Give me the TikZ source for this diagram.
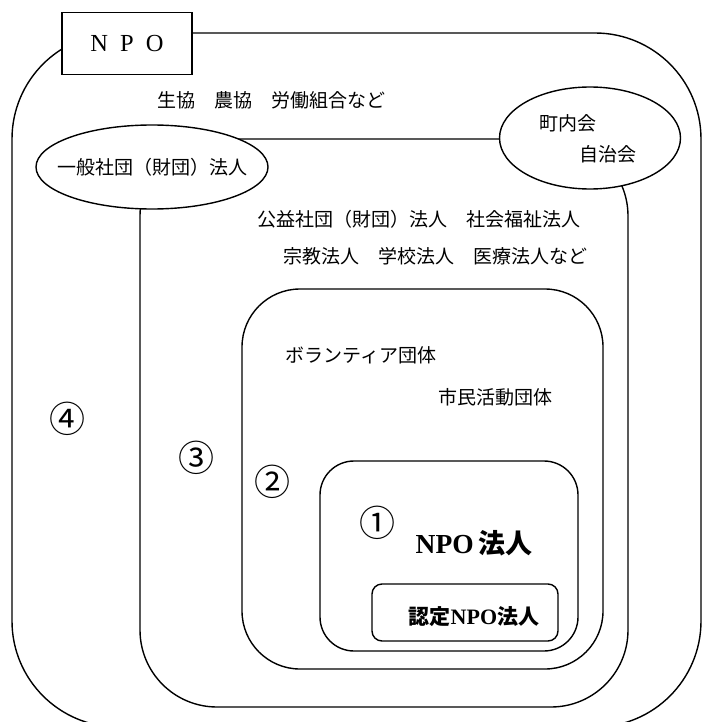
\documentclass[tikz,border=0pt]{standalone}
\usepackage{fontspec}
\newfontfamily\jp{Noto Sans CJK JP}
\newfontfamily\ser{Liberation Serif}
\usetikzlibrary{shapes.geometric}
\begin{document}
\begin{tikzpicture}[x=1pt,y=-1pt,line width=1.4pt,
  lbl/.style={font=\jp\fontsize{19}{19}\selectfont,anchor=west,inner sep=0pt},
  num/.style={font=\jp\fontsize{36}{36}\selectfont,inner sep=0pt},
  oval/.style={ellipse,draw,fill=white,inner sep=0pt}]
\useasboundingbox (0,0) rectangle (703,722);
\begin{scope}
\clip (0,0) rectangle (703,722);
\draw[rounded corners=106pt] (12,33) rectangle (701,727);
\end{scope}
\node[draw,fill=white,minimum width=130pt,minimum height=62pt,inner sep=0pt] (npo) at (127,43.5)
  {\ser\fontsize{24.5}{24.5}\selectfont N\hspace{12pt}P\hspace{12pt}O};
\node[lbl] (t4) at (157,100) {生協　農協　労働組合など};
% circle 3
\draw[rounded corners=77pt] (140,139) rectangle (628,707);
\node[oval,minimum width=232pt,minimum height=84pt] (ippan) at (152,167) {};
\node[lbl,anchor=center] (ippant) at (ippan.center) {一般社団（財団）法人};
\node[oval,minimum width=181pt,minimum height=102pt] (chonai) at (590,138) {};
\node[lbl] (chonai1) at (539,123) {町内会};
\node[lbl] (chonai2) at (579,154) {自治会};
\node[lbl] (t3a) at (257,219) {公益社団（財団）法人　社会福祉法人};
\node[lbl] (t3b) at (283,256) {宗教法人　学校法人　医療法人など};
% circle 2
\draw[rounded corners=58pt] (242,289) rectangle (603,669);
\node[lbl] (t2a) at (285,355) {ボランティア団体};
\node[lbl] (t2b) at (438,397) {市民活動団体};
% circle 1
\draw[rounded corners=34pt] (320,461) rectangle (578,651);
\node[lbl] (t1) at (415,543) {{\ser\bfseries\fontsize{27.5}{27.5}\selectfont NPO} {\jp\bfseries\fontsize{27}{27}\selectfont 法人}};
\draw[rounded corners=10pt] (372,584) rectangle (558,641);
\node[lbl] (t0) at (408,617) {{\jp\bfseries\fontsize{21}{21}\selectfont 認定}{\ser\bfseries\fontsize{22}{22}\selectfont NPO}{\jp\bfseries\fontsize{21}{21}\selectfont 法人}};
% numbers
\node[num] (n4) at (67,419) {④};
\node[num] (n3) at (196,458) {③};
\node[num] (n2) at (272,482) {②};
\node[num] (n1) at (377,523) {①};
\end{tikzpicture}
\end{document}
